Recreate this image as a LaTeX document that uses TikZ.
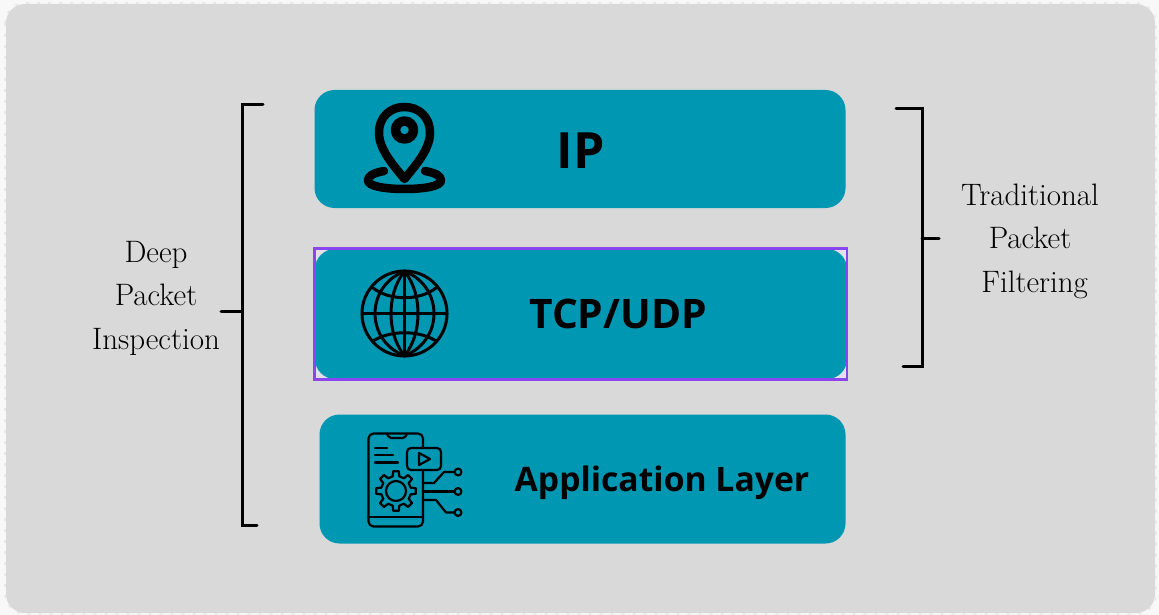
\documentclass[tikz,border=0pt]{standalone}
\usepackage{fontspec}
\newfontfamily\labelfont[Scale=1]{Open Sans}
\tikzset{
  layerbox/.style={fill=teal0,draw=none,rounded corners=20pt,inner sep=0pt},
  layertext/.style={text=black,inner sep=0pt,anchor=center},
  sidetext/.style={font=\fontsize{31}{43.5}\selectfont,text=ink,align=center,inner sep=0pt,anchor=center},
  brace/.style={draw=black,line width=3pt,line cap=round},
  ico/.style={draw=black,line cap=round,line join=round},
}
\definecolor{teal0}{HTML}{0097B2}
\definecolor{paper}{HTML}{D9D9D9}
\definecolor{ink}{HTML}{000000}
\definecolor{violet0}{HTML}{8B45EE}
\definecolor{edge}{HTML}{F8F8F8}
\definecolor{notch}{HTML}{E4E0EA}
\definecolor{dashc}{HTML}{E6E6E6}
\begin{document}
\begin{tikzpicture}[x=1pt,y=-1pt]
\useasboundingbox (0,0) rectangle (1159,615);
\fill[edge] (0,0) rectangle (1159,615);
\fill[paper,rounded corners=19pt] (6,4) rectangle (1155,613);
\draw[dashc,line width=1.5pt,dash pattern=on 3pt off 8pt,rounded corners=20pt] (5,3) rectangle (1156,614);
% boxes
\node[layerbox,minimum width=531pt,minimum height=118pt] (ipbox) at (580,149) {};
\fill[notch] (315,249) rectangle (847,379);
\node[layerbox,minimum width=532pt,minimum height=130pt] (tcpbox) at (581,314) {};
\draw[violet0,line width=2.6pt] (314.5,248.5) rectangle (847,379.5);
\node[layerbox,minimum width=526pt,minimum height=129pt] (appbox) at (582.5,479) {};
% texts
\node[layertext,font=\labelfont\bfseries\fontsize{50}{50}\selectfont] (iptext) at (580.5,151) {IP};
\node[layertext,font=\labelfont\bfseries\fontsize{40.7}{42}\selectfont] (tcptext) at (618,314) {TCP/UDP};
\node[layertext,font=\labelfont\bfseries\fontsize{33.7}{36}\selectfont] (apptext) at (662,482.5) {Application Layer};
\node[sidetext] (deep) at (156,298) {Deep\\Packet\\Inspection};
\node[sidetext] (trad) at (1030,241) {Traditional\\Packet\\\ Filtering};
% left bracket
\draw[brace] (263,105) -- (242,105) -- (242,525) -- (257,525);
\draw[brace] (221,311.5) -- (242,311.5);
% right bracket
\draw[brace] (896,109) -- (922,109) -- (922,366) -- (903,366);
\draw[brace] (922,238.5) -- (939,238.5);
% pin icon
\begin{scope}[ico,line width=8.5pt]
\draw (384,171) .. controls (373,173) and (368,176) .. (368,180.5)
  .. controls (368,186) and (384,189) .. (404.5,189)
  .. controls (425,189) and (441,186) .. (441,180.5)
  .. controls (441,176) and (436,173) .. (425,171);
\draw (404.5,179) .. controls (395,167) and (379,150) .. (379,133)
  .. controls (379,116) and (391,107) .. (404.5,107)
  .. controls (418,107) and (430,116) .. (430,133)
  .. controls (430,150) and (414,167) .. (404.5,179) -- cycle;
\draw[line width=9.5pt] (404.5,130) circle (9pt);
\end{scope}
% globe icon
\begin{scope}[ico,line width=3pt]
\draw (404.5,313.5) circle (42.5pt);
\draw (362,313.5) -- (447,313.5);
\draw (404.5,271) -- (404.5,356);
\draw (404.5,271) .. controls (394,285) and (391,300) .. (391,313.5) .. controls (391,327) and (394,342) .. (404.5,356);
\draw (404.5,271) .. controls (415,285) and (418,300) .. (418,313.5) .. controls (418,327) and (415,342) .. (404.5,356);
\draw (404.5,271) .. controls (383,280) and (375,298) .. (375,313.5) .. controls (375,329) and (383,347) .. (404.5,356);
\draw (404.5,271) .. controls (426,280) and (434,298) .. (434,313.5) .. controls (434,329) and (426,347) .. (404.5,356);
\draw (373,288) .. controls (390,301) and (419,301) .. (436,288);
\draw (373,341) .. controls (390,330) and (419,330) .. (436,341);
\end{scope}
% app icon
\begin{scope}[ico,line width=2.2pt]
\draw[rounded corners=5pt] (423,448) -- (423,433.5) -- (368.5,433.5) -- (368.5,526.5) -- (423,526.5) -- (423,470);
\draw (368.5,517) -- (423,517);
\draw[rounded corners=2pt] (387,433.5) -- (389,438) -- (405,438) -- (407,433.5);
\draw (375,448) -- (387,448);
\draw (375,455) -- (393,455);
\draw (375,462.5) -- (398,462.5);
\draw[rounded corners=4pt] (407,448) rectangle (441,470);
\draw (419,453) -- (430,459) -- (419,465) -- cycle;
\begin{scope}[shift={(396,491)}]
\draw (0,0) circle (10pt);
\foreach \a in {0,45,...,315} {
  \draw (\a-8:20) -- (\a+8:20) -- (\a+13:15) -- (\a+32:15) -- (\a+37:20);
}
\end{scope}
\draw (423,483) -- (434,483) -- (444,472) -- (454.5,472);
\draw (423,491.5) -- (454.5,491.5);
\draw (423,500) -- (436,500) -- (446,512.5) -- (454.5,512.5);
\draw (458,472) circle (3.4pt);
\draw (458,491.5) circle (3.4pt);
\draw (458,512.5) circle (3.4pt);
\end{scope}
\end{tikzpicture}
\end{document}
